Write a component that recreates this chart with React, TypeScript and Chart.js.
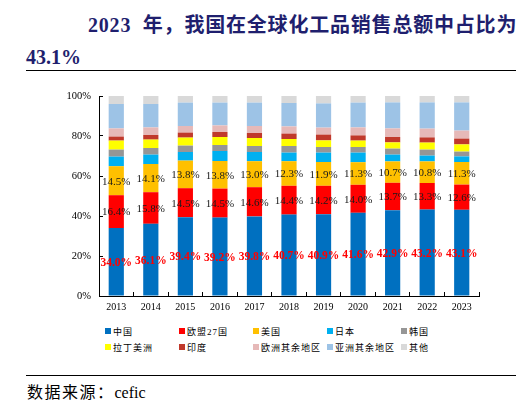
import { useEffect, useRef } from "react"
import { Chart, registerables } from "chart.js"
import type { Plugin } from "chart.js"

Chart.register(...registerables)

const years = ["2013", "2014", "2015", "2016", "2017", "2018", "2019", "2020", "2021", "2022", "2023"]

const regionNames = ["中国", "欧盟27国", "美国", "日本", "韩国", "拉丁美洲", "印度", "欧洲其余地区", "亚洲其余地区", "其他"]
const regionColors = ["#0070C0", "#FF0000", "#FFC000", "#00B0F0", "#969696", "#FFFF00", "#C0392B", "#E6B9B8", "#9DC3E6", "#D9D9D9"]

// shares in % (the labelled ones are exact)
const china = [34.0, 36.1, 39.4, 39.2, 39.8, 40.7, 40.9, 41.6, 42.9, 43.2, 43.1]
const eu27 = [16.4, 15.8, 14.5, 14.5, 14.6, 14.4, 14.2, 14.0, 13.7, 13.3, 12.6]
const usa = [14.5, 14.1, 13.8, 13.8, 13.0, 12.3, 11.9, 11.3, 10.7, 10.8, 11.3]
const japan = [4.8, 4.7, 4.3, 5.0, 4.6, 4.3, 4.7, 4.8, 3.4, 2.9, 2.8]
const korea = [3.5, 3.3, 3.2, 3.0, 3.0, 3.3, 2.8, 2.8, 3.0, 3.0, 2.4]
const latinAmerica = [4.5, 4.2, 4.0, 4.0, 4.0, 3.5, 3.3, 3.2, 3.1, 3.5, 3.6]
const india = [2.0, 2.3, 2.5, 2.5, 2.5, 2.7, 2.9, 2.6, 2.7, 2.6, 2.9]
const restOfEurope = [4.1, 3.8, 3.3, 3.3, 3.5, 3.6, 3.5, 4.0, 4.3, 4.4, 4.0]
const restOfAsia = [12.2, 11.7, 11.7, 11.4, 11.7, 11.7, 12.1, 12.4, 13.0, 13.1, 14.1]
const others = [4.0, 4.0, 3.3, 3.3, 3.3, 3.5, 3.7, 3.3, 3.2, 3.2, 3.2]

const seriesValues = [china, eu27, usa, japan, korea, latinAmerica, india, restOfEurope, restOfAsia, others]

const yTicks = [0, 20, 40, 60, 80, 100]

const serif = '"Liberation Serif", "Times New Roman", serif'
const cjk = '"Liberation Serif", "Noto Sans CJK SC", serif'

// writes the share on the first three segments of each bar
const segmentLabels: Plugin<"bar"> = {
  id: "segmentLabels",
  afterDatasetsDraw(chart) {
    const ctx = chart.ctx
    ctx.save()
    ctx.textAlign = "center"
    ctx.textBaseline = "middle"
    for (let d = 0; d < 3; d++) {
      const meta = chart.getDatasetMeta(d)
      meta.data.forEach((bar, i) => {
        const { x, y, base } = bar.getProps(["x", "y", "base"], true) as { x: number; y: number; base: number }
        const value = seriesValues[d][i]
        if (d === 0) {
          ctx.font = `bold 11.5px ${serif}`
          ctx.fillStyle = "#FF0000"
        } else {
          ctx.font = `11px ${serif}`
          ctx.fillStyle = "#1a1a1a"
        }
        ctx.fillText(value.toFixed(1) + "%", x, (y + base) / 2 + 1)
      })
    }
    ctx.restore()
  },
}

export default function App() {
  const canvasRef = useRef<HTMLCanvasElement>(null)

  useEffect(() => {
    if (!canvasRef.current) return
    const chart = new Chart(canvasRef.current, {
      type: "bar",
      data: {
        labels: years,
        datasets: regionNames.map((name, i) => ({
          label: name,
          data: seriesValues[i],
          backgroundColor: regionColors[i],
          borderWidth: 0,
          barPercentage: 1,
          categoryPercentage: 0.44,
        })),
      },
      options: {
        responsive: false,
        animation: false,
        layout: { padding: { top: 10, right: 21, left: 0, bottom: 0 } },
        plugins: {
          legend: { display: false },
          tooltip: { enabled: false },
        },
        scales: {
          x: {
            stacked: true,
            // short ticks pointing into the plot, between the categories
            grid: { display: true, drawOnChartArea: false, drawTicks: true, tickLength: -4, color: "#000" },
            border: { color: "#000", width: 1 },
            ticks: { color: "#000", font: { family: serif, size: 10 }, padding: 9 },
            afterFit: (scale) => {
              scale.height = 22
            },
          },
          y: {
            stacked: true,
            min: 0,
            max: 100,
            afterBuildTicks: (scale) => {
              scale.ticks = yTicks.map((v) => ({ value: v }))
            },
            grid: { display: true, drawOnChartArea: false, drawTicks: true, tickLength: -4, color: "#000" },
            border: { color: "#000", width: 1 },
            ticks: {
              color: "#000",
              font: { family: serif, size: 10.5 },
              padding: 12,
              callback: (v) => `${v}%`,
            },
            afterFit: (scale) => {
              scale.width = 99
              scale.paddingTop = 0
              scale.paddingBottom = 0
            },
          },
        },
      },
      plugins: [segmentLabels],
    })
    return () => chart.destroy()
  }, [])

  return (
    <div style={{ position: "absolute", left: 0, top: 0, width: 531, height: 416, background: "#fff", overflow: "hidden" }}>
      <div
        style={{
          position: "absolute",
          left: 88,
          top: 12,
          fontFamily: cjk,
          fontWeight: "bold",
          fontSize: 20,
          lineHeight: "26px",
          letterSpacing: 0.8,
          color: "#1f1f6e",
          whiteSpace: "nowrap",
        }}
      >
        2023&nbsp; 年，我国在全球化工品销售总额中占比为
      </div>
      <div
        style={{
          position: "absolute",
          left: 26,
          top: 44,
          fontFamily: serif,
          fontWeight: "bold",
          fontSize: 20,
          lineHeight: "26px",
          color: "#1f1f6e",
        }}
      >
        43.1%
      </div>
      <div style={{ position: "absolute", left: 26, top: 70, width: 490, height: 1, background: "#000" }} />
      <canvas ref={canvasRef} width={500} height={232} style={{ position: "absolute", left: 0, top: 86, width: 500, height: 232 }} />
      {regionNames.map((name, i) => (
        <div
          key={name}
          style={{
            position: "absolute",
            left: 105 + (i % 5) * 74,
            top: 324 + Math.floor(i / 5) * 16,
            height: 14,
            display: "flex",
            alignItems: "center",
            whiteSpace: "nowrap",
            fontFamily: cjk,
            fontSize: 9,
            letterSpacing: 1,
            color: "#000",
          }}
        >
          <span style={{ display: "inline-block", width: 6, height: 6, background: regionColors[i], marginRight: 2 }} />
          {name}
        </div>
      ))}
      <div style={{ position: "absolute", left: 26, top: 375, width: 490, height: 1, background: "#000" }} />
      <div
        style={{
          position: "absolute",
          left: 27,
          top: 382,
          fontFamily: cjk,
          fontSize: 16,
          lineHeight: "21px",
          color: "#000",
          whiteSpace: "nowrap",
        }}
      >
        <span style={{ letterSpacing: 1.5 }}>数据来源：</span>
        <span style={{ fontFamily: serif, fontSize: 16 }}>cefic</span>
      </div>
    </div>
  )
}
